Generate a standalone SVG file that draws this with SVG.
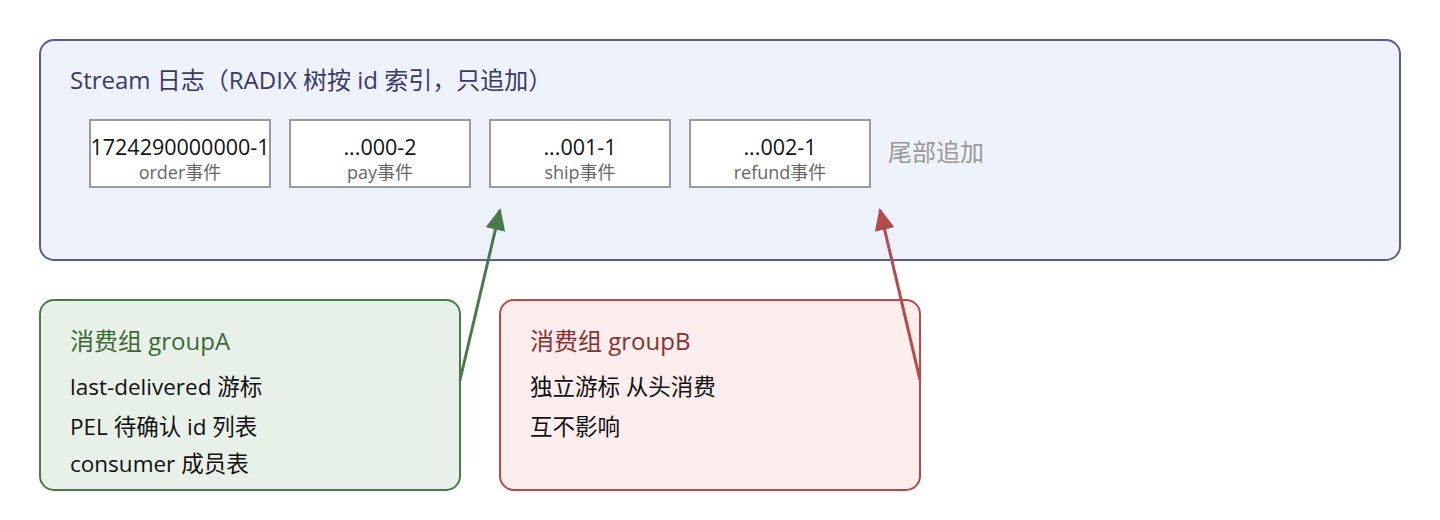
<svg xmlns="http://www.w3.org/2000/svg" width="1440" height="520" viewBox="0 0 1440 520">
<style>
text{font-family:"Open Sans","Noto Sans CJK SC",sans-serif}
.cell{fill:#fff;stroke:#999;stroke-width:2}
.id{font-size:21.5px;fill:#111;text-anchor:middle}
.sub{font-size:18px;fill:#666;text-anchor:middle}
.t{font-size:24px}
.b{font-size:22.5px;fill:#111}
</style>
<defs>
<marker id="ag" markerWidth="22" markerHeight="20" refX="20" refY="10" orient="auto" markerUnits="userSpaceOnUse" viewBox="0 0 22 20"><path d="M0,0 L22,10 L0,20 z" fill="#4a7a4a"/></marker>
<marker id="ar" markerWidth="22" markerHeight="20" refX="20" refY="10" orient="auto" markerUnits="userSpaceOnUse" viewBox="0 0 22 20"><path d="M0,0 L22,10 L0,20 z" fill="#b44a4a"/></marker>
</defs>
<g id="stream">
<rect x="40" y="40" width="1360" height="220" rx="14" fill="#eef2fb" stroke="#5a5a9a" stroke-width="2"/>
<text x="70" y="89" class="t" fill="#3a3a6a">Stream 日志（RADIX 树按 id 索引，只追加）</text>
</g>
<g id="e1"><rect class="cell" x="90" y="120" width="180" height="67"/><text class="id" x="180" y="155">1724290000000-1</text><text class="sub" x="180" y="179">order事件</text></g>
<g id="e2"><rect class="cell" x="290" y="120" width="180" height="67"/><text class="id" x="380" y="155">...000-2</text><text class="sub" x="380" y="179">pay事件</text></g>
<g id="e3"><rect class="cell" x="490" y="120" width="180" height="67"/><text class="id" x="580" y="155">...001-1</text><text class="sub" x="580" y="179">ship事件</text></g>
<g id="e4"><rect class="cell" x="690" y="120" width="180" height="67"/><text class="id" x="780" y="155">...002-1</text><text class="sub" x="780" y="179">refund事件</text></g>
<g id="tail"><text x="888" y="161" font-size="24" fill="#999">尾部追加</text></g>
<g id="groupA">
<rect x="40" y="300" width="420" height="190" rx="14" fill="#e8f1e8" stroke="#4a7a4a" stroke-width="2"/>
<text x="70" y="350" class="t" fill="#3a6a3a">消费组 groupA</text>
<text x="70" y="395" class="b">last-delivered 游标</text>
<text x="70" y="435" class="b">PEL 待确认 id 列表</text>
<text x="70" y="472" class="b">consumer 成员表</text>
</g>
<g id="groupB">
<rect x="500" y="300" width="420" height="190" rx="14" fill="#fdeeee" stroke="#b44a4a" stroke-width="2"/>
<text x="530" y="350" class="t" fill="#8a3030">消费组 groupB</text>
<text x="530" y="395" class="b">独立游标 从头消费</text>
<text x="530" y="435" class="b">互不影响</text>
</g>
<g id="connectors">
<line x1="460" y1="380" x2="500" y2="210" stroke="#4a7a4a" stroke-width="3" marker-end="url(#ag)"/>
<line x1="920" y1="380" x2="880" y2="210" stroke="#b44a4a" stroke-width="3" marker-end="url(#ar)"/>
</g>
</svg>
